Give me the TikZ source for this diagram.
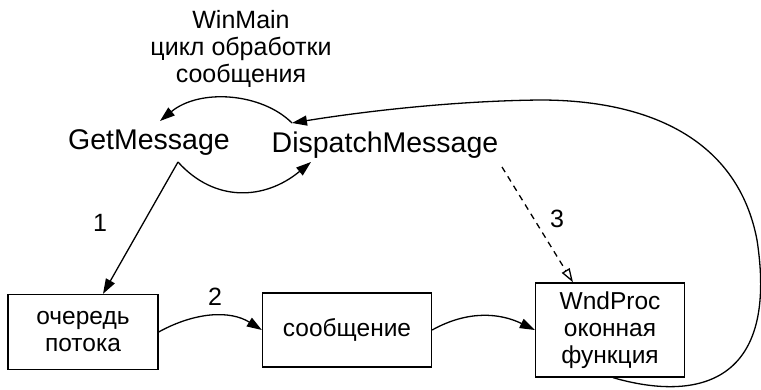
\documentclass[tikz,border=0pt]{standalone}
\usepackage{fontspec}
\setmainfont{Liberation Sans}
\usetikzlibrary{arrows.meta}
\begin{document}
\begin{tikzpicture}[x=1pt,y=-1pt,
  txt/.style={font=\fontsize{25}{27}\selectfont, align=center, inner sep=0pt},
  big/.style={font=\fontsize{28.5}{30}\selectfont, inner sep=0pt},
  box/.style={draw, line width=1.3pt, font=\fontsize{24.5}{27}\selectfont, align=center, inner sep=0pt},
  conn/.style={line width=1.3pt, -{Triangle[length=15pt,width=10pt]}},
  dconn/.style={line width=1.3pt, dash pattern=on 6pt off 5pt, -{Triangle[open,length=14pt,width=9pt]}},
  lbl/.style={font=\fontsize{25}{27}\selectfont, inner sep=0pt}]
\useasboundingbox (0,0) rectangle (761,390);
\node[txt] (title) at (241,49) {WinMain\\цикл обработки\\сообщения};
\node[big] (gm) at (149,143) {GetMessage};
\node[big] (dm) at (385,145) {DispatchMessage};
\node[box, minimum width=150pt, minimum height=75pt] (q) at (83,332) {очередь\\потока};
\node[box, minimum width=169pt, minimum height=74pt] (s) at (347,330) {сообщение};
\node[box, minimum width=149pt, minimum height=94pt] (w) at (610,330) {WndProc\\оконная\\функция};
\coordinate (dmin) at (292,123);
\coordinate (gmin) at (160,121);
\coordinate (gmout) at (178,162);
\coordinate (dmout) at (311,162);
\coordinate (dmdash) at (502,167);
% loop
\draw[conn] (dmin) .. controls (262,93) and (200,88) .. (gmin);
\draw[conn] (gmout) .. controls (215,203) and (265,200) .. (dmout);
% 1
\draw[conn] (gmout) -- ([xshift=20pt]q.north);
\node[lbl] (l1) at (100,223) {1};
% 2
\draw[conn] (q.east) .. controls (195,312) and (230,310) .. (s.west);
\node[lbl] (l2) at (215,297) {2};
% s -> w
\draw[conn] (s.east) .. controls (468,310) and (500,313) .. (w.west);
% 3
\draw[dconn] (dmdash) -- ([xshift=-37pt]w.north);
\node[lbl] (l3) at (557,219) {3};
% big loop
\draw[conn] ([xshift=3pt]w.south) .. controls (690,400) and (780,390) .. (757,240) .. controls (738,140) and (650,100) .. (540,100) .. controls (450,101) and (360,112) .. (dmin);
\end{tikzpicture}
\end{document}
